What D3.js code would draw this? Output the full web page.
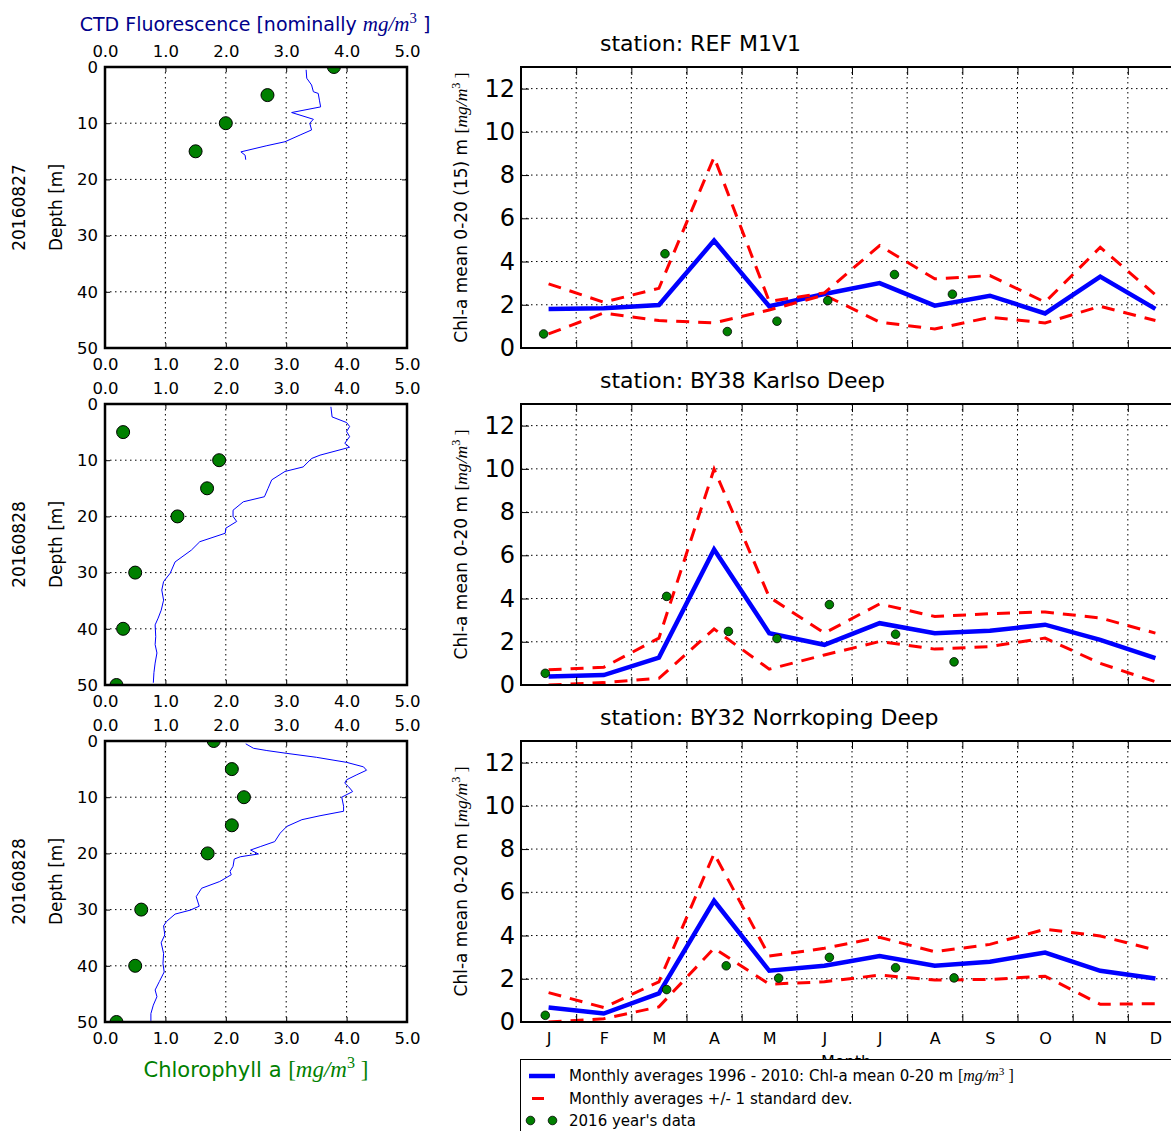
<!DOCTYPE html>
<html><head><meta charset="utf-8">
<script src="https://cdn.jsdelivr.net/npm/d3@7"></script>
<style>
body{margin:0;background:#fff}
text{font-family:"DejaVu Sans",sans-serif}
</style>
</head><body>
<svg id="c" width="1171" height="1131"></svg>
<script>
// ---------------- DATA ----------------
const stationNames = ["REF M1V1", "BY38 Karlso Deep", "BY32 Norrkoping Deep"];
const profileDates = ["20160827", "20160828", "20160828"];
const monthLabels = ["J","F","M","A","M","J","J","A","S","O","N","D"];
const depthTicks = [0, 10, 20, 30, 40, 50];
const concTicks = [0, 1, 2, 3, 4, 5];
const chlTicks = [0, 2, 4, 6, 8, 10, 12];
const monthGrid = [1,2,3,4,5,6,7,8,9,10,11];
const yLabelPrefix = ["Chl-a mean 0-20 (15) m ", "Chl-a mean 0-20 m ", "Chl-a mean 0-20 m "];

// Monthly averages 1996-2010 (mean, +1 sd, -1 sd)
const meanM1V1  = [1.81,1.84,1.99,4.97,1.93,2.50,3.00,1.96,2.42,1.60,3.30,1.81];
const upperM1V1 = [2.97,2.12,2.76,8.83,2.15,2.55,4.74,3.20,3.35,2.12,4.66,2.46];
const lowerM1V1 = [0.65,1.62,1.27,1.16,1.76,2.45,1.20,0.88,1.42,1.16,1.93,1.27];

const meanBY38  = [0.39,0.46,1.27,6.27,2.40,1.86,2.86,2.40,2.51,2.79,2.09,1.24];
const upperBY38 = [0.70,0.82,2.17,9.99,4.07,2.40,3.75,3.17,3.30,3.38,3.10,2.40];
const lowerBY38 = [0.00,0.11,0.31,2.59,0.73,1.39,2.01,1.66,1.78,2.17,1.00,0.15];

const meanBY32  = [0.67,0.39,1.32,5.61,2.37,2.60,3.05,2.60,2.79,3.21,2.37,2.01];
const upperBY32 = [1.36,0.67,1.86,7.79,3.05,3.41,3.92,3.25,3.59,4.29,3.98,3.33];
const lowerBY32 = [0.00,0.15,0.70,3.41,1.75,1.86,2.17,1.94,1.97,2.12,0.82,0.85];

// 2016 data (position on month axis, value)
const obsMonthM1V1 = [0.41,2.61,3.74,4.64,5.56,6.77,7.82];
const obsValueM1V1 = [0.65,4.36,0.76,1.24,2.19,3.40,2.49];
const obsMonthBY38 = [0.44,2.64,3.76,4.64,5.59,6.79,7.85];
const obsValueBY38 = [0.54,4.10,2.48,2.15,3.72,2.35,1.07];
const obsMonthBY32 = [0.44,2.64,3.72,4.67,5.59,6.79,7.85];
const obsValueBY32 = [0.31,1.50,2.60,2.03,2.99,2.51,2.04];

// Bottle chlorophyll profiles
const chlDepthM1V1 = [0,5,10,15];
const chlValueM1V1 = [3.79,2.69,2.00,1.50];
const chlDepthBY38 = [5,10,15,20,30,40,50];
const chlValueBY38 = [0.30,1.89,1.69,1.20,0.50,0.30,0.19];
const chlDepthBY32 = [0,5,10,15,20,30,40,50];
const chlValueBY32 = [1.80,2.10,2.30,2.10,1.70,0.60,0.50,0.19];

// CTD fluorescence profiles
const fluDepthM1V1 = [0.5,2.0,3.2,4.4,4.7,5.9,7.1,8.1,9.3,10.0,11.2,12.1,13.3,14.0,15.1,15.7,16.5];
const fluValueM1V1 = [3.33,3.34,3.42,3.45,3.53,3.55,3.57,3.09,3.45,3.39,3.42,3.23,2.98,2.68,2.25,2.32,2.33];
const fluDepthBY38 = [0.5,2.3,3.3,4.0,4.9,5.8,7.0,7.7,9.1,9.7,11.2,12.0,13.5,15.0,16.5,17.4,18.9,20.0,20.9,22.1,23.0,24.5,26.0,28.1,30.1,31.6,33.1,34.9,36.7,38.1,39.3,41.4,42.8,44.3,46.1,47.8,49.6];
const fluValueBY38 = [3.74,3.76,4.00,4.05,4.00,4.05,3.97,4.05,3.56,3.42,3.28,2.98,2.76,2.70,2.64,2.29,2.12,2.12,2.18,2.00,1.99,1.57,1.43,1.16,1.08,0.97,0.94,0.97,0.93,0.88,0.83,0.84,0.83,0.86,0.83,0.81,0.80];
const fluDepthBY32 = [0.5,1.3,1.7,2.2,2.9,3.8,4.6,5.2,6.0,6.9,7.5,8.1,9.0,10.0,11.6,12.5,13.3,14.0,15.2,16.4,17.9,18.8,19.4,20.1,20.6,21.0,22.3,23.2,23.8,25.0,26.2,27.7,29.4,30.1,30.8,32.1,32.9,34.5,35.9,37.8,39.6,41.1,42.8,44.3,45.5,47.0,48.5,49.8];
const fluValueBY32 = [2.33,2.46,2.68,3.01,3.50,4.00,4.28,4.33,4.17,4.00,3.97,4.03,4.10,3.92,3.95,3.95,3.56,3.26,3.01,2.90,2.81,2.57,2.41,2.54,2.24,2.14,2.12,2.07,2.09,1.90,1.60,1.51,1.56,1.41,1.16,1.02,0.97,0.99,0.93,0.97,0.96,0.98,0.90,0.83,0.86,0.80,0.76,0.76];

const legendLabels = ["Monthly averages 1996 - 2010: Chl-a mean 0-20 m ", "Monthly averages +/- 1 standard dev.", "2016 year's data"];

// ---------------- LAYOUT ----------------
const svg = d3.select("#c");
const rowTop = [67, 404, 741], rowH = 281;
const LX0 = 105, LX1 = 407;
const RX0 = 521, RX1 = 1183;
const GREEN = "#008000", BLUE = "#0000ff", RED = "#ff0000", NAVY = "#00008b";

const profiles = [
  {fd: fluDepthM1V1, fv: fluValueM1V1, cd: chlDepthM1V1, cv: chlValueM1V1},
  {fd: fluDepthBY38, fv: fluValueBY38, cd: chlDepthBY38, cv: chlValueBY38},
  {fd: fluDepthBY32, fv: fluValueBY32, cd: chlDepthBY32, cv: chlValueBY32}
];
const monthly = [
  {m: meanM1V1, u: upperM1V1, l: lowerM1V1, ox: obsMonthM1V1, ov: obsValueM1V1},
  {m: meanBY38, u: upperBY38, l: lowerBY38, ox: obsMonthBY38, ov: obsValueBY38},
  {m: meanBY32, u: upperBY32, l: lowerBY32, ox: obsMonthBY32, ov: obsValueBY32}
];

function addUnit(t, pre, post, mathSize, bracketsMath) {
  t.append("tspan").text(pre);
  if (bracketsMath) t.append("tspan").attr("font-family","Liberation Serif").attr("font-size", mathSize).text("[");
  t.append("tspan").attr("font-family","Liberation Serif").attr("font-style","italic").attr("font-size", mathSize).text("mg/m");
  t.append("tspan").attr("font-family","Liberation Serif").attr("font-size", mathSize*0.7).attr("dy", -mathSize*0.4).text("3");
  t.append("tspan").attr("dy", mathSize*0.4).attr("font-size", bracketsMath ? mathSize : null)
    .attr("font-family", bracketsMath ? "Liberation Serif" : null).text(post);
}

function styleAxis(g, size) {
  g.attr("font-family", "DejaVu Sans").attr("font-size", size);
  g.select(".domain").remove();
  g.selectAll(".tick line").attr("stroke", "#000").attr("stroke-width", 1);
  g.selectAll(".tick text").attr("fill", "#000");
}

// ---------------- PROFILE PANELS ----------------
profiles.forEach((p, i) => {
  const top = rowTop[i], bot = top + rowH;
  const x = d3.scaleLinear().domain([0, 5]).range([LX0, LX1]);
  const y = d3.scaleLinear().domain([0, 50]).range([top, bot]);
  const g = svg.append("g");
  const cid = "lclip" + i;
  g.append("clipPath").attr("id", cid).append("rect")
    .attr("x", LX0).attr("y", top).attr("width", LX1 - LX0).attr("height", rowH);

  g.selectAll(".vg").data(concTicks.slice(1, -1)).join("line")
    .attr("x1", d => x(d)).attr("x2", d => x(d)).attr("y1", top).attr("y2", bot)
    .attr("stroke", "#000").attr("stroke-width", 1).attr("stroke-dasharray", "1.5,3.5");
  g.selectAll(".hg").data(depthTicks.slice(1, -1)).join("line")
    .attr("x1", LX0).attr("x2", LX1).attr("y1", d => y(d)).attr("y2", d => y(d))
    .attr("stroke", "#000").attr("stroke-width", 1).attr("stroke-dasharray", "1.5,3.5");

  const plot = g.append("g").attr("clip-path", `url(#${cid})`);
  plot.append("path")
    .datum(p.fd.map((d, k) => [p.fv[k], d]))
    .attr("d", d3.line().x(d => x(d[0])).y(d => y(d[1])))
    .attr("fill", "none").attr("stroke", BLUE).attr("stroke-width", 1);
  plot.selectAll("circle").data(p.cd.map((d, k) => [p.cv[k], d])).join("circle")
    .attr("cx", d => x(d[0])).attr("cy", d => y(d[1])).attr("r", 6.5)
    .attr("fill", GREEN).attr("stroke", "#000").attr("stroke-width", 1);

  const fmt = d3.format(".1f");
  const ab = g.append("g").attr("transform", `translate(0,${bot})`)
    .call(d3.axisBottom(x).tickValues(concTicks).tickFormat(fmt).tickSizeInner(-5).tickSizeOuter(0).tickPadding(10));
  styleAxis(ab, 16.5);
  const at = g.append("g").attr("transform", `translate(0,${top})`)
    .call(d3.axisTop(x).tickValues(concTicks).tickFormat(fmt).tickSizeInner(-5).tickSizeOuter(0).tickPadding(10));
  styleAxis(at, 16.5);
  const al = g.append("g").attr("transform", `translate(${LX0},0)`)
    .call(d3.axisLeft(y).tickValues(depthTicks).tickSizeInner(-5).tickSizeOuter(0).tickPadding(7));
  styleAxis(al, 16.5);
  const ar = g.append("g").attr("transform", `translate(${LX1},0)`)
    .call(d3.axisRight(y).tickValues(depthTicks).tickSizeInner(-5).tickSizeOuter(0).tickFormat(""));
  styleAxis(ar, 16.5);

  g.append("rect").attr("x", LX0).attr("y", top).attr("width", LX1 - LX0).attr("height", rowH)
    .attr("fill", "none").attr("stroke", "#000").attr("stroke-width", 2.5);

  const cy = (top + bot) / 2;
  g.append("text").attr("transform", `translate(62,${cy}) rotate(-90)`)
    .attr("text-anchor", "middle").attr("font-size", 17).text("Depth [m]");
  g.append("text").attr("transform", `translate(25,${cy}) rotate(-90)`)
    .attr("text-anchor", "middle").attr("font-size", 17).text(profileDates[i]);
});

{
  const t = svg.append("text").attr("x", 255).attr("y", 31).attr("text-anchor", "middle")
    .attr("font-size", 19).attr("fill", NAVY);
  addUnit(t, "CTD Fluorescence [nominally ", " ]", 21, false);
  const t2 = svg.append("text").attr("x", 256).attr("y", 1077).attr("text-anchor", "middle")
    .attr("font-size", 21).attr("fill", GREEN);
  addUnit(t2, "Chlorophyll a ", " ]", 23, true);
}

// ---------------- MONTHLY PANELS ----------------
monthly.forEach((s, i) => {
  const top = rowTop[i], bot = top + rowH;
  const x = d3.scaleLinear().domain([0, 12]).range([RX0, RX1]);
  const y = d3.scaleLinear().domain([0, 13]).range([bot, top]);
  const g = svg.append("g");
  const cid = "rclip" + i;
  g.append("clipPath").attr("id", cid).append("rect")
    .attr("x", RX0).attr("y", top).attr("width", RX1 - RX0).attr("height", rowH);

  g.selectAll(".vg").data(monthGrid).join("line")
    .attr("x1", d => x(d)).attr("x2", d => x(d)).attr("y1", top).attr("y2", bot)
    .attr("stroke", "#000").attr("stroke-width", 1).attr("stroke-dasharray", "1.5,3.5");
  g.selectAll(".hg").data(chlTicks.slice(1)).join("line")
    .attr("x1", RX0).attr("x2", RX1).attr("y1", d => y(d)).attr("y2", d => y(d))
    .attr("stroke", "#000").attr("stroke-width", 1).attr("stroke-dasharray", "1.5,3.5");

  const plot = g.append("g").attr("clip-path", `url(#${cid})`);
  const line = d3.line().x((d, k) => x(k + 0.5)).y(d => y(d));
  plot.append("path").datum(s.m).attr("d", line)
    .attr("fill", "none").attr("stroke", BLUE).attr("stroke-width", 4.5);
  [s.u, s.l].forEach(arr => {
    plot.append("path").datum(arr).attr("d", line)
      .attr("fill", "none").attr("stroke", RED).attr("stroke-width", 3)
      .attr("stroke-dasharray", "13,9");
  });
  plot.selectAll("circle").data(s.ox.map((d, k) => [d, s.ov[k]])).join("circle")
    .attr("cx", d => x(d[0])).attr("cy", d => y(d[1])).attr("r", 4.3)
    .attr("fill", GREEN).attr("stroke", "#000").attr("stroke-width", 0.8);

  const al = g.append("g").attr("transform", `translate(${RX0},0)`)
    .call(d3.axisLeft(y).tickValues(chlTicks).tickSizeInner(-8).tickSizeOuter(0).tickPadding(6));
  styleAxis(al, 24);
  const ab = g.append("g").attr("transform", `translate(0,${bot})`)
    .call(d3.axisBottom(x).tickValues(monthGrid).tickFormat("").tickSizeInner(-8).tickSizeOuter(0));
  styleAxis(ab, 16);
  const at = g.append("g").attr("transform", `translate(0,${top})`)
    .call(d3.axisTop(x).tickValues(monthGrid).tickFormat("").tickSizeInner(-8).tickSizeOuter(0));
  styleAxis(at, 16);
  if (i === 2) {
    const am = g.append("g").attr("transform", `translate(0,${bot})`)
      .call(d3.axisBottom(x).tickValues(monthLabels.map((m, k) => k + 0.5))
        .tickFormat((d, k) => monthLabels[k]).tickSize(0).tickPadding(10.5));
    styleAxis(am, 16);
    g.append("text").attr("x", 846).attr("y", 1067).attr("text-anchor", "middle")
      .attr("font-size", 16).text("Month");
  }

  g.append("rect").attr("x", RX0).attr("y", top).attr("width", RX1 - RX0).attr("height", rowH)
    .attr("fill", "none").attr("stroke", "#000").attr("stroke-width", 2);

  g.append("text").attr("x", 600).attr("y", top - 16).attr("font-size", 22)
    .text("station: " + stationNames[i]);

  const yl = g.append("text").attr("transform", `translate(467,${(top + bot) / 2}) rotate(-90)`)
    .attr("text-anchor", "middle").attr("font-size", 17);
  addUnit(yl, yLabelPrefix[i], " ]", 17.5, true);
});

// ---------------- LEGEND ----------------
{
  const lg = svg.append("g");
  lg.append("rect").attr("x", 520.5).attr("y", 1059.5).attr("width", 700).attr("height", 120)
    .attr("fill", "#fff").attr("stroke", "#000").attr("stroke-width", 1);
  lg.append("line").attr("x1", 529).attr("x2", 555).attr("y1", 1076).attr("y2", 1076)
    .attr("stroke", BLUE).attr("stroke-width", 4.5);
  lg.append("line").attr("x1", 532).attr("x2", 544).attr("y1", 1098.5).attr("y2", 1098.5)
    .attr("stroke", RED).attr("stroke-width", 3);
  lg.selectAll("circle").data([530.5, 552.5]).join("circle")
    .attr("cx", d => d).attr("cy", 1120.5).attr("r", 4.3)
    .attr("fill", GREEN).attr("stroke", "#000").attr("stroke-width", 0.8);
  const t1 = lg.append("text").attr("x", 569).attr("y", 1081).attr("font-size", 15);
  addUnit(t1, legendLabels[0], " ]", 16, true);
  lg.append("text").attr("x", 569).attr("y", 1104).attr("font-size", 15).text(legendLabels[1]);
  lg.append("text").attr("x", 569).attr("y", 1126).attr("font-size", 15).text(legendLabels[2]);
}
</script>
</body></html>
